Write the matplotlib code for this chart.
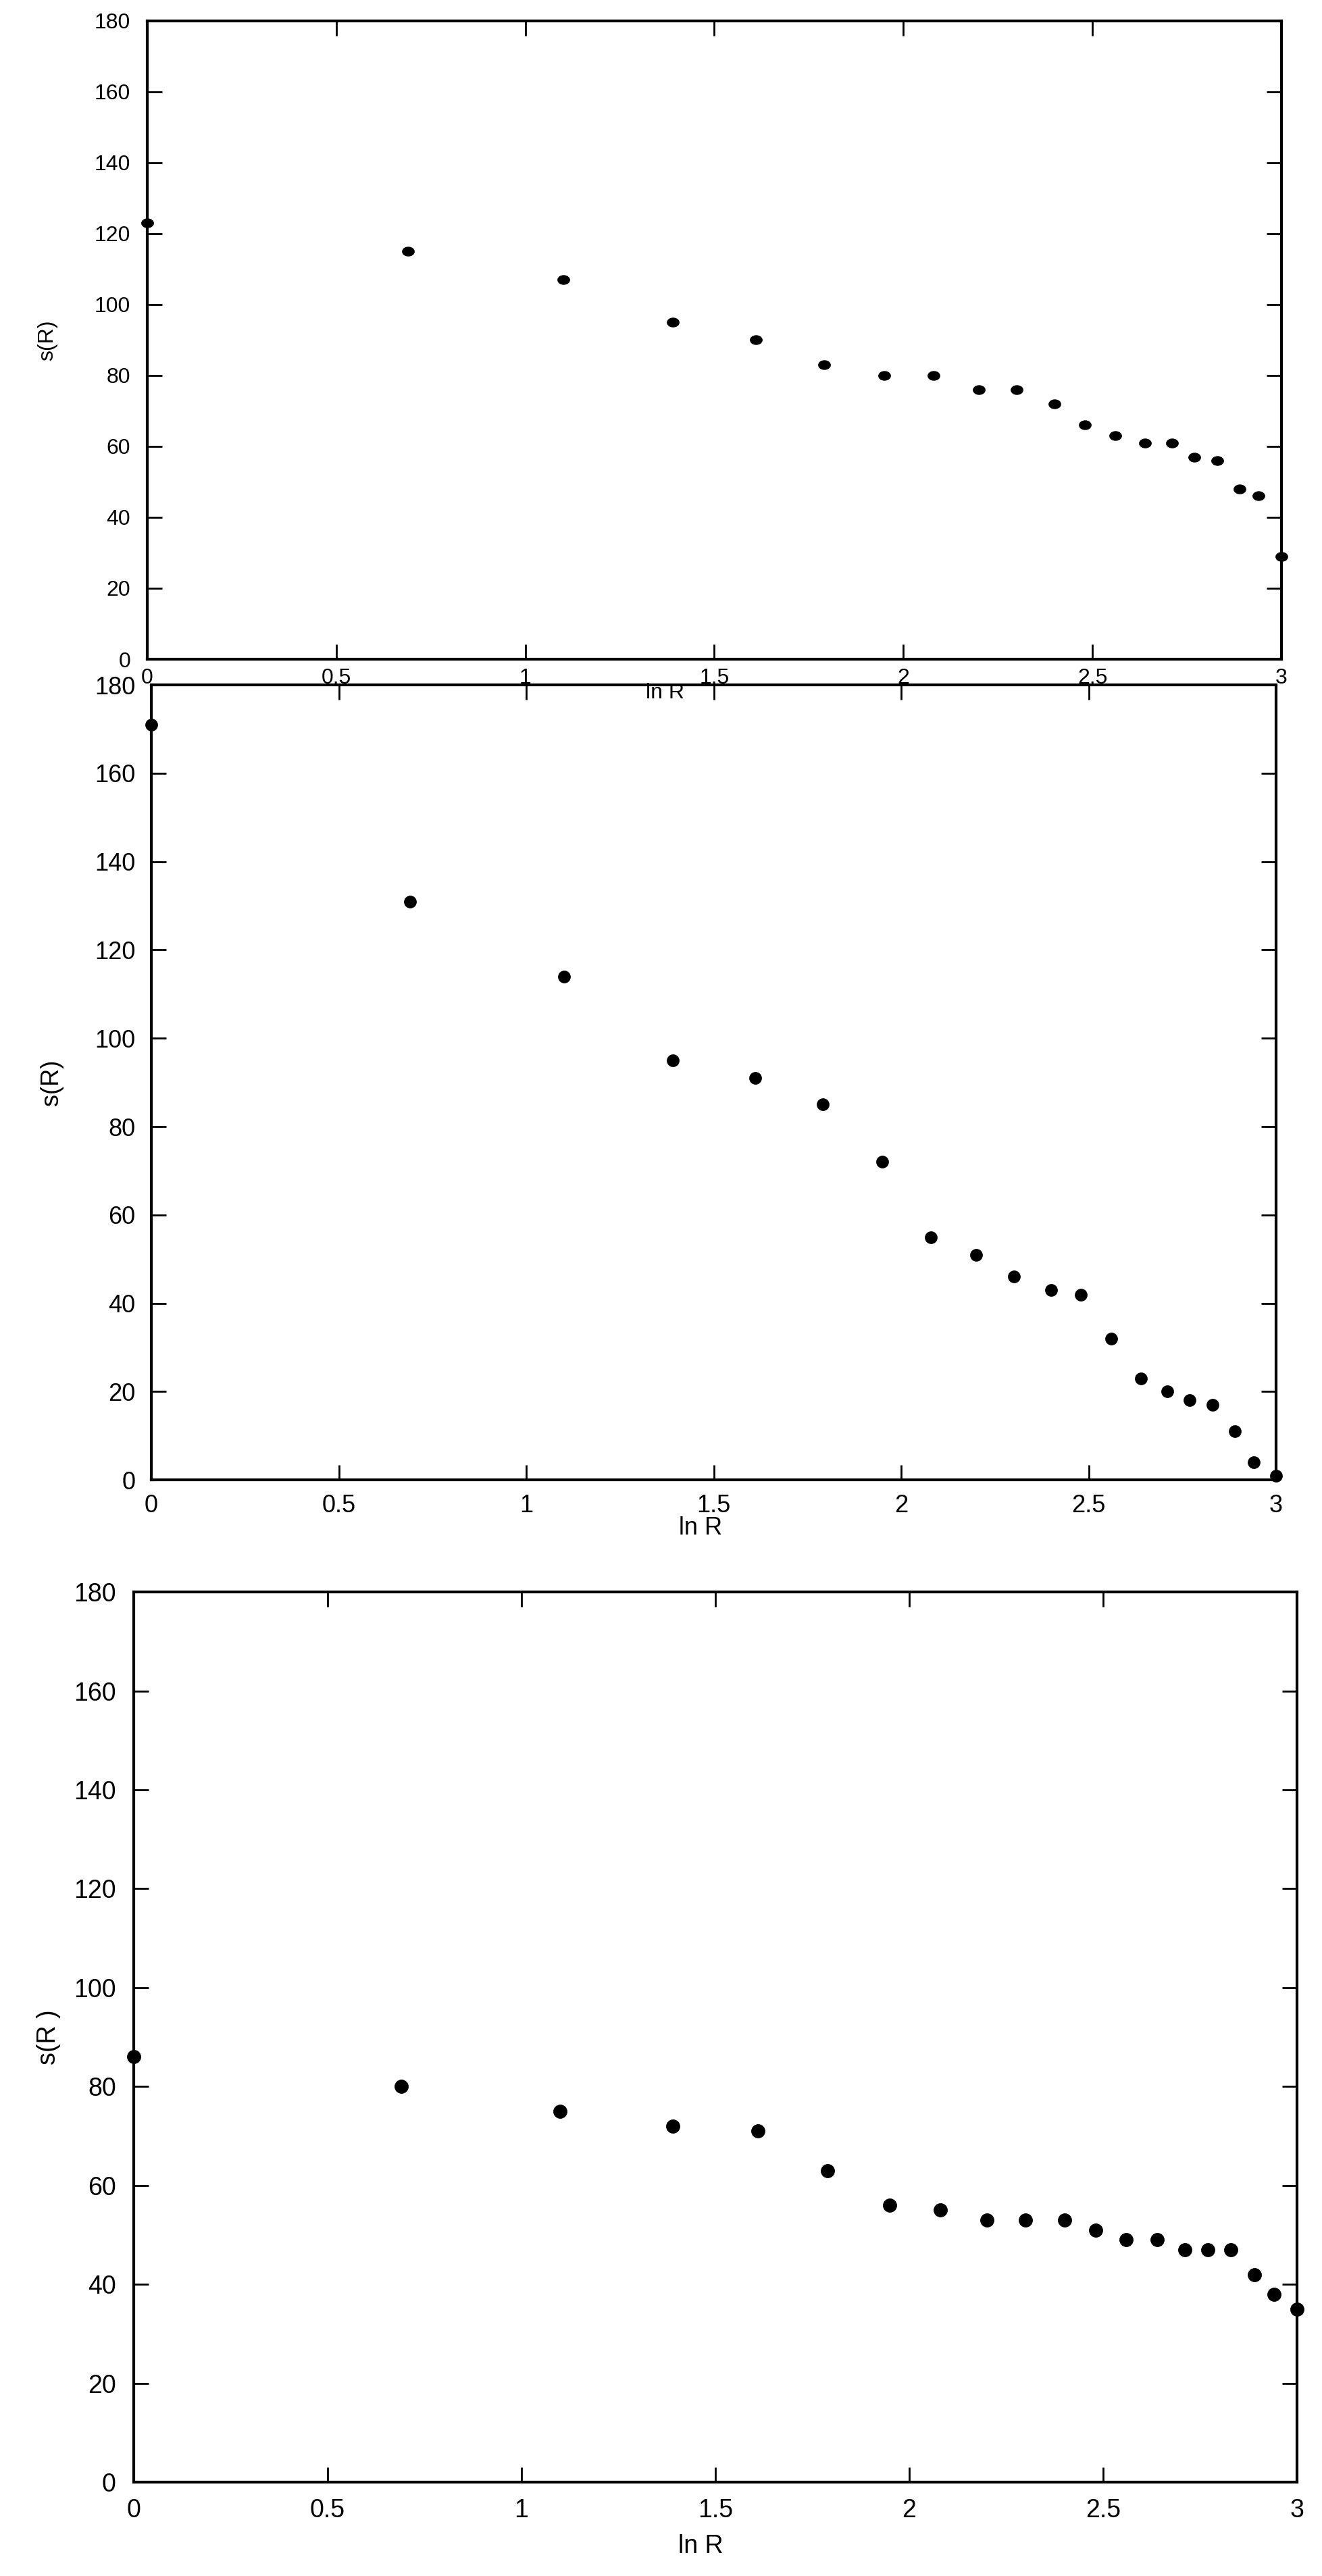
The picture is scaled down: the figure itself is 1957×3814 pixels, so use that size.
import matplotlib
matplotlib.use('Agg')
import matplotlib.pyplot as plt
from matplotlib.path import Path
from matplotlib.transforms import Affine2D

plt.rcParams['font.family'] = ['Liberation Sans', 'DejaVu Sans']

# ln R for R = 1..20
ln_r = [0.0, 0.69, 1.10, 1.39, 1.61, 1.79, 1.95, 2.08, 2.20, 2.30,
        2.40, 2.48, 2.56, 2.64, 2.71, 2.77, 2.83, 2.89, 2.94, 3.00]

s_top = [123, 115, 107, 95, 90, 83, 80, 80, 76, 76,
         72, 66, 63, 61, 61, 57, 56, 48, 46, 29]
s_mid = [171, 131, 114, 95, 91, 85, 72, 55, 51, 46,
         43, 42, 32, 23, 20, 18, 17, 11, 4, 1]
s_bot = [86, 80, 75, 72, 71, 63, 56, 55, 53, 53,
         53, 51, 49, 49, 47, 47, 47, 42, 38, 35]

x_ticks = [0, 0.5, 1, 1.5, 2, 2.5, 3]
x_labels = ['0', '0.5', '1', '1.5', '2', '2.5', '3']
y_ticks = list(range(0, 181, 20))

fig = plt.figure(figsize=(19.57, 38.14), dpi=100)

# flat dots in the top panel
flat_dot = Path.unit_circle().transformed(Affine2D().scale(1.0, 0.75))

panels = [
    # rect, data, tick font, marker, marker size, y pad, x pad, ylabel, ylabel x
    ([0.1114, 0.7441, 0.8579, 0.2478], s_top, 23, flat_dot, 12.5, 18, 9, 's(R)', 0.036),
    ([0.1145, 0.4255, 0.8508, 0.3086], s_mid, 26, 'o', 12.5, 17, 15, 's(R)', 0.039),
    ([0.1012, 0.0364, 0.8799, 0.3456], s_bot, 27, 'o', 14.0, 19, 17, 's(R )', 0.037),
]

for i, (rect, vals, fs, mk, ms, ypad, xpad, ylab, ylx) in enumerate(panels):
    ax = fig.add_axes(rect, zorder=i + 1)
    ax.set_facecolor('white')
    ax.plot(ln_r, vals, linestyle='none', marker=mk, markersize=ms,
            color='black', clip_on=False, zorder=5)
    ax.set_xlim(0, 3)
    ax.set_ylim(0, 180)
    ax.set_xticks(x_ticks)
    ax.set_xticklabels(x_labels)
    ax.set_yticks(y_ticks)
    ax.tick_params(direction='in', top=True, right=True, length=16, width=2,
                   labelsize=fs)
    ax.tick_params(axis='y', pad=ypad)
    ax.tick_params(axis='x', pad=xpad)
    for sp in ax.spines.values():
        sp.set_linewidth(3)
    bb = ax.get_position()
    fig.text(ylx, bb.y0 + bb.height / 2, ylab, rotation=90, fontsize=fs,
             ha='center', va='center')

# x labels (the top one sits over the middle panel)
fig.text(0.503, 1 - 1026 / 3814, 'ln R', fontsize=23, ha='center', va='center', zorder=10)
fig.text(0.530, 1 - 2262 / 3814, 'ln R', fontsize=26, ha='center', va='center')
fig.text(0.530, 1 - 3770 / 3814, 'ln R', fontsize=27, ha='center', va='center')

plt.savefig('out.png', dpi=100, facecolor='white')
